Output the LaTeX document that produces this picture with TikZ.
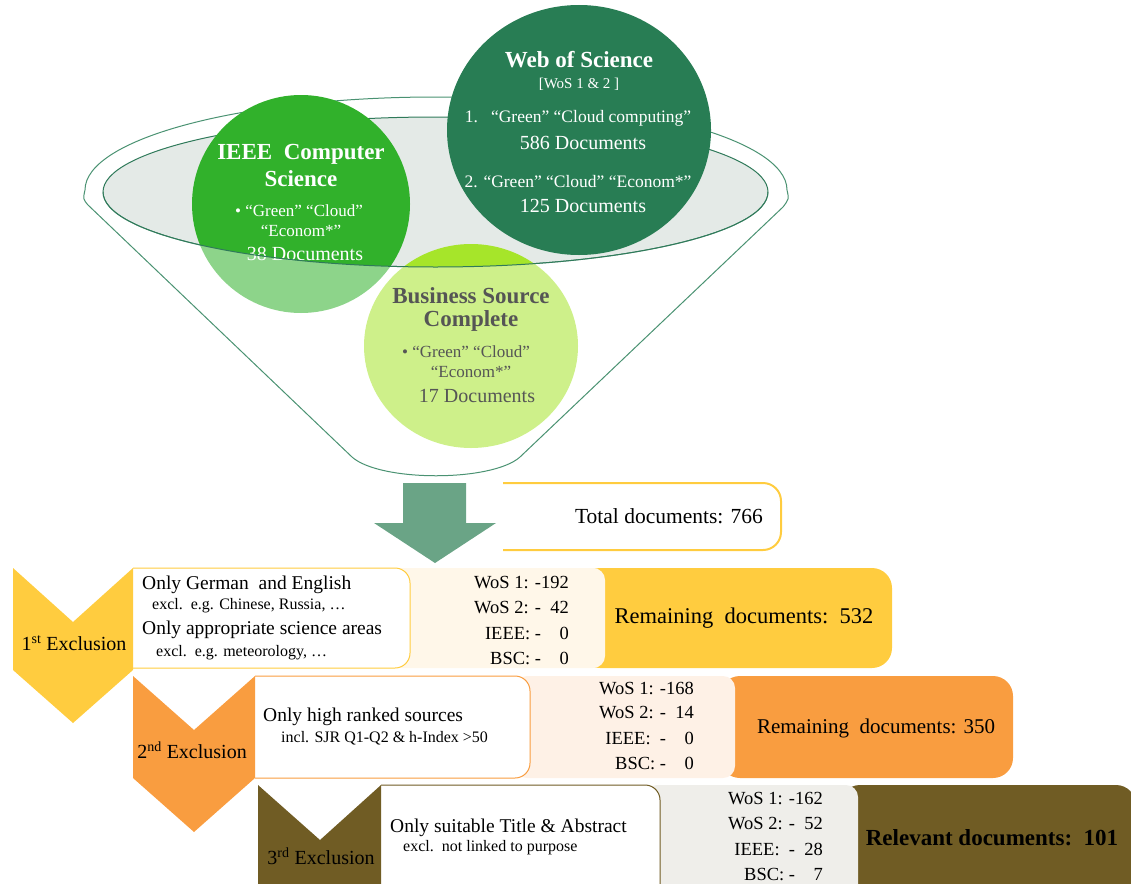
\documentclass[tikz,border=0pt]{standalone}
\usepackage{fontspec}
\setmainfont{Liberation Serif}
\usetikzlibrary{shapes.geometric}
\definecolor{wosgreen}{HTML}{287D54}
\definecolor{ieeegreen}{HTML}{31B12B}
\definecolor{bsclime}{HTML}{A6E52A}
\definecolor{funline}{HTML}{4A9272}
\definecolor{rimdark}{HTML}{2F7A5A}
\definecolor{rimgrey}{HTML}{E4EAE7}
\definecolor{arrowgreen}{HTML}{6AA486}
\definecolor{exyellow}{HTML}{FFCC3F}
\definecolor{exorange}{HTML}{F99D40}
\definecolor{exolive}{HTML}{705C24}
\definecolor{creamA}{HTML}{FFF7E9}
\definecolor{creamB}{HTML}{FEF1E6}
\definecolor{greyC}{HTML}{EFEEEA}
\definecolor{bsctext}{HTML}{555555}

\begin{document}
\begin{tikzpicture}[x=1pt, y=-1pt,
  circ/.style={ellipse, inner sep=0pt},
  ttl/.style={font=\fontsize{23}{27}\selectfont\bfseries, inner sep=0pt},
  brk/.style={font=\fontsize{15}{18}\selectfont, inner sep=0pt},
  qtxt/.style={font=\fontsize{17.5}{21}\selectfont, inner sep=0pt},
  dtxt/.style={font=\fontsize{20}{24}\selectfont, inner sep=0pt},
  rowmain/.style={font=\fontsize{19.5}{23}\selectfont, anchor=west, inner sep=0pt},
  rowsub/.style={font=\fontsize{16}{19}\selectfont, anchor=west, inner sep=0pt},
  numtxt/.style={font=\fontsize{18.5}{22}\selectfont, anchor=east, inner sep=0pt},
  exlbl/.style={font=\fontsize{20}{24}\selectfont, inner sep=0pt},
  txtbox/.style={fill=white, line width=1pt, rounded corners=15pt},
]
\useasboundingbox (0,0) rectangle (1131,883);
\clip (0,0) rectangle (1131,883);

% funnel rim, back part
\draw[funline, line width=1pt] (85,190) arc[start angle=180, end angle=0, x radius=351pt, y radius=93pt];
\filldraw[fill=rimgrey, draw=rimdark, line width=1pt] (435.5,192) ellipse [x radius=332.5pt, y radius=75pt];

% source circles
\node[circ, fill=wosgreen, minimum width=264pt, minimum height=250pt] (wos) at (579,130) {};
\node[circ, fill=ieeegreen, minimum size=218pt] (ieee) at (301,204) {};
\node[circ, fill=bsclime, minimum width=214pt, minimum height=204pt] (bsc) at (471,346) {};

% funnel front, fades the circles
\fill[white, fill opacity=0.45] (103,192) arc[start angle=180, end angle=360, x radius=332.5pt, y radius=75pt]
  -- (787,190) .. controls (789,199) .. (783,207) -- (520,457)
  .. controls (492,482) and (380,482) .. (352,457) -- (88,205)
  .. controls (83,199) .. (85,190) -- cycle;

% circle texts
\node[ttl, white] (wosT) at (579,60) {Web of Science};
\node[brk, white] (wosB) at (579,84) {[WoS 1 \& 2 ]};
\node[qtxt, white] (wosQ1) at (578,118) {1.\ \ \ “Green” “Cloud computing”};
\node[dtxt, white] (wosN1) at (583,143) {586 Documents};
\node[qtxt, white] (wosQ2) at (578,182) {2. “Green” “Cloud” “Econom*”};
\node[dtxt, white] (wosN2) at (583,206) {125 Documents};

\node[ttl, white] (ieeeT1) at (301,154) {IEEE\ \ Computer};
\node[ttl, white] (ieeeT2) at (301,179) {Science};
\node[qtxt, white, font=\fontsize{17}{20}\selectfont] (ieeeQ1) at (299,211) {• “Green” “Cloud”};
\node[qtxt, white, font=\fontsize{17}{20}\selectfont] (ieeeQ2) at (301,231) {“Econom*”};
\node[dtxt, white] (ieeeN) at (305,254) {38 Documents};

\node[ttl, bsctext] (bscT1) at (471,296) {Business Source};
\node[ttl, bsctext] (bscT2) at (471,321) {Complete};
\node[qtxt, bsctext, font=\fontsize{17}{20}\selectfont] (bscQ1) at (466,352) {• “Green” “Cloud”};
\node[qtxt, bsctext, font=\fontsize{17}{20}\selectfont] (bscQ2) at (471,372) {“Econom*”};
\node[dtxt, bsctext] (bscN) at (477,396) {17 Documents};

% funnel front lines
\draw[rimdark, line width=1pt] (103,192) arc[start angle=180, end angle=360, x radius=332.5pt, y radius=75pt];
\draw[funline, line width=1pt] (85,190) .. controls (83,199) .. (88,205) -- (352,457)
  .. controls (380,482) and (492,482) .. (520,457) -- (783,207) .. controls (789,199) .. (787,190);

% total box and big arrow
\draw[exyellow, line width=2pt, rounded corners=18pt] (503,483) -- (781,483) -- (781,550) -- (503,550);
\node[font=\fontsize{21.5}{25}\selectfont, anchor=east, inner sep=0pt] (total) at (763,516) {Total documents: 766};
\fill[arrowgreen] (403,483) -- (466,483) -- (466,523) -- (496,523) -- (435,563) -- (374,523) -- (403,523) -- cycle;

% 1st exclusion
\fill[exyellow, rounded corners=20pt] (580,568) rectangle (892,668);
\fill[creamA, rounded corners=12pt] (390,568) rectangle (605,668);
\filldraw[txtbox, draw=exyellow] (133,568) -- (410,568) -- (410,668) -- (133,668);
\fill[exyellow] (13,568) -- (73,622) -- (133,568) -- (133,670) -- (73,723) -- (13,670) -- cycle;
\node[exlbl] (ex1) at (74,643) {1\textsuperscript{st} Exclusion};
\node[rowmain] (r1a) at (142,585) {Only German\ \ and English};
\node[rowsub] (r1b) at (152,606) {excl.\ \ e.g. Chinese, Russia, …};
\node[rowmain] (r1c) at (142,630) {Only appropriate science areas};
\node[rowsub] (r1d) at (156,653) {excl.\ \ e.g. meteorology, …};
\foreach \txt [count=\k] in {WoS 1: -192, WoS 2: -~~42, IEEE: -~~~~0, BSC: -~~~~0}
  \node[numtxt] (n1\k) at (569, 558+25*\k) {\txt};
\node[font=\fontsize{22.5}{26}\selectfont, inner sep=0pt] (rem1) at (744,618) {Remaining\ \ documents:\ \ 532};

% 2nd exclusion
\fill[exorange, rounded corners=20pt] (720,676) rectangle (1013,778);
\fill[creamB, rounded corners=12pt] (515,676) rectangle (735,778);
\filldraw[txtbox, draw=exorange] (255,676) -- (530,676) -- (530,778) -- (255,778);
\fill[exorange] (133,676) -- (194,730) -- (255,676) -- (255,778) -- (194,832) -- (133,778) -- cycle;
\node[exlbl] (ex2) at (192,750) {2\textsuperscript{nd} Exclusion};
\node[rowmain] (r2a) at (263,717) {Only high ranked sources};
\node[rowsub] (r2b) at (281,738) {incl. SJR Q1-Q2 \& h-Index >50};
\foreach \txt [count=\k] in {WoS 1: -168, WoS 2: -~~14, IEEE:~~-~~~~0, BSC: -~~~~0}
  \node[numtxt] (n2\k) at (694, 663+25*\k) {\txt};
\node[font=\fontsize{21}{25}\selectfont, inner sep=0pt] (rem2) at (876,728) {Remaining\ \ documents: 350};

% 3rd exclusion
\fill[exolive, rounded corners=20pt] (840,785) rectangle (1136,900);
\fill[greyC, rounded corners=12pt] (645,785) rectangle (858,900);
\filldraw[txtbox, draw=exolive] (381,785) -- (660,785) -- (660,900) -- (381,900);
\fill[exolive] (258,785) -- (320,840) -- (381,785) -- (381,900) -- (258,900) -- cycle;
\node[exlbl] (ex3) at (321,856) {3\textsuperscript{rd} Exclusion};
\node[rowmain] (r3a) at (390,828) {Only suitable Title \& Abstract};
\node[rowsub] (r3b) at (403,848) {excl.\ \ not linked to purpose};
\foreach \txt [count=\k] in {WoS 1: -162, WoS 2: -~~52, IEEE:~~-~~28, BSC: -~~~~7}
  \node[numtxt] (n3\k) at (823, 774+25*\k) {\txt};
\node[font=\fontsize{23}{27}\selectfont\bfseries, inner sep=0pt] (rel3) at (992,838) {Relevant documents:\ \ 101};

\end{tikzpicture}
\end{document}
